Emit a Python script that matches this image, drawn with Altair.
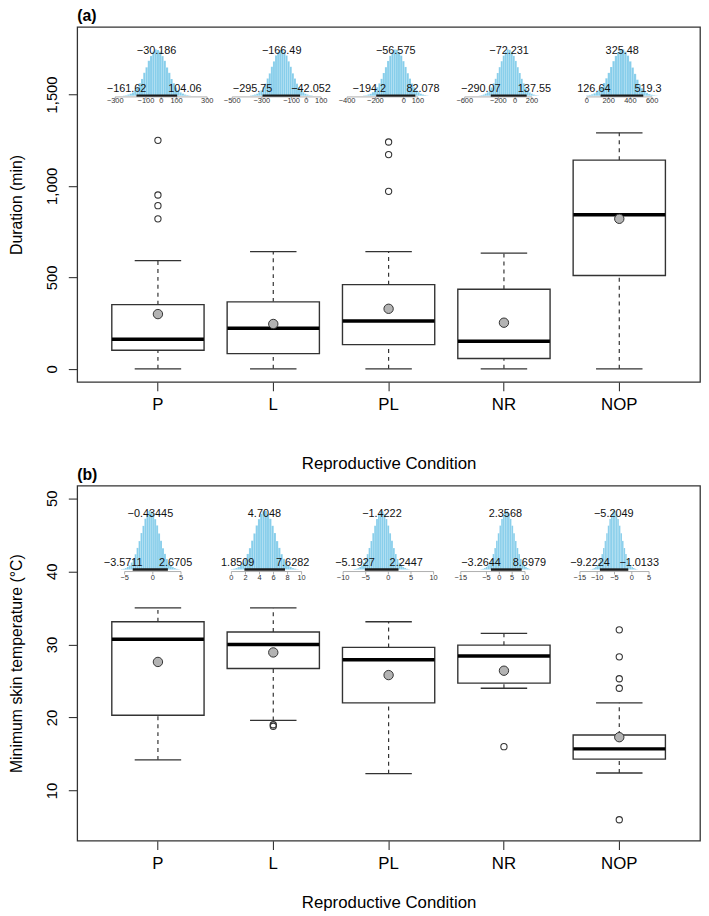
import altair as alt
import pandas as pd

cats = ["P", "L", "PL", "NR", "NOP"]

# ---------------- Panel (a): Duration (min) ----------------
a_low = [0, 0, 0, 0, 0]
a_q1 = [101, 83, 132, 56, 510]
a_med = [162, 222, 261, 151, 842]
a_q3 = [351, 366, 460, 435, 1141]
a_high = [591, 640, 640, 632, 1290]
a_mean = [299, 245, 328, 252, 820]
a_out_cat = ["P", "P", "P", "P", "PL", "PL", "PL"]
a_out_val = [1249, 950, 892, 820, 1240, 1171, 970]

a_post_mean = [-30.186, -166.49, -56.575, -72.231, 325.48]
a_hdi_lo = [-161.62, -295.75, -194.2, -290.07, 126.64]
a_hdi_hi = [104.06, -42.052, 82.078, 137.55, 519.3]
a_inset_ticks = [[-300, -100, 0, 100, 300], [-500, -300, -100, 0, 100],
                 [-400, -200, 0, 100], [-600, -200, 0, 200], [0, 200, 400, 600]]
a_hist = [
    [0.6, 1.2, 2.6, 4.5, 7.0, 12.1, 17.8, 26.9, 36.2, 49.5, 61.3, 75.4, 85.8, 95.3, 100.0,
     98.7, 95.1, 85.5, 75.3, 61.0, 49.4, 36.1, 26.9, 17.7, 12.0, 7.1, 4.6, 2.4, 1.4, 0.6],
    [0.8, 1.4, 2.4, 4.3, 7.6, 11.5, 18.4, 26.0, 37.2, 48.2, 62.5, 74.1, 86.9, 94.2, 99.1,
     100.0, 94.3, 86.7, 74.2, 62.4, 48.3, 37.1, 26.0, 18.5, 11.6, 7.5, 4.2, 2.6, 1.2, 0.8],
    [0.7, 1.1, 2.7, 4.2, 7.5, 11.6, 18.3, 26.6, 36.4, 49.1, 61.6, 75.0, 86.0, 95.1, 99.6,
     99.2, 94.6, 86.5, 74.6, 62.1, 48.6, 36.9, 26.2, 18.2, 11.7, 7.4, 4.3, 2.5, 1.3, 0.6],
    [0.6, 1.3, 2.4, 4.6, 7.2, 12.0, 17.9, 26.7, 36.5, 49.0, 61.7, 74.5, 86.4, 94.6, 100.0,
     99.0, 95.0, 86.0, 75.1, 61.6, 49.1, 36.5, 26.6, 17.9, 12.0, 7.2, 4.5, 2.4, 1.3, 0.7],
    [1.0, 1.8, 3.0, 5.2, 8.3, 12.9, 19.2, 27.5, 37.6, 49.3, 62.0, 74.6, 85.9, 94.5, 99.5,
     100.0, 95.2, 86.4, 74.1, 60.8, 47.2, 34.6, 24.3, 16.2, 10.2, 6.1, 3.5, 1.9, 1.0, 0.5],
]

# ---------------- Panel (b): Minimum skin temperature ----------------
b_low = [14.2, 19.6, 12.3, 24.0, 12.4]
b_q1 = [20.3, 26.7, 22.0, 24.7, 14.3]
b_med = [30.7, 30.0, 27.9, 28.4, 15.7]
b_q3 = [33.1, 31.7, 29.6, 29.9, 17.6]
b_high = [35.0, 35.0, 33.1, 31.5, 22.0]
b_mean = [27.6, 28.9, 25.8, 26.4, 17.3]
b_out_cat = ["L", "L", "NR", "NOP", "NOP", "NOP", "NOP", "NOP"]
b_out_val = [19.0, 18.8, 16.0, 32.0, 28.3, 25.3, 24.0, 6.0]

b_post_mean = [-0.43445, 4.7048, -1.4222, 2.3568, -5.2049]
b_hdi_lo = [-3.5711, 1.8509, -5.1927, -3.2644, -9.2224]
b_hdi_hi = [2.6705, 7.6282, 2.2447, 8.6979, -1.0133]
b_inset_ticks = [[-5, 0, 5], [0, 2, 4, 6, 8, 10], [-10, -5, 0, 5, 10],
                 [-15, -5, 0, 5, 10], [-15, -10, -5, 0, 5]]
b_hist = [
    [0.7, 1.2, 2.5, 4.6, 7.1, 11.9, 18.4, 26.1, 36.9, 48.5, 62.2, 74.4, 86.6, 94.4, 99.8,
     99.1, 95.0, 85.9, 75.2, 61.5, 49.0, 36.4, 26.7, 17.9, 11.6, 7.4, 4.3, 2.6, 1.2, 0.7],
    [0.6, 1.4, 2.6, 4.3, 7.4, 11.7, 17.9, 26.6, 36.5, 49.2, 61.5, 75.1, 85.9, 95.0, 99.3,
     100.0, 94.5, 86.4, 74.5, 62.2, 48.5, 36.9, 26.2, 18.3, 11.9, 7.2, 4.5, 2.4, 1.4, 0.6],
    [0.8, 1.3, 2.4, 4.5, 7.3, 12.0, 18.2, 26.3, 36.8, 48.6, 62.0, 74.6, 86.3, 94.7, 100.0,
     99.2, 94.9, 86.1, 74.9, 61.8, 48.9, 36.6, 26.5, 18.0, 11.7, 7.3, 4.4, 2.5, 1.3, 0.7],
    [0.7, 1.3, 2.6, 4.4, 7.2, 11.8, 18.0, 26.5, 36.6, 48.9, 61.8, 74.9, 86.1, 94.9, 99.2,
     99.9, 94.7, 86.3, 74.7, 62.0, 48.7, 36.8, 26.3, 18.1, 11.8, 7.3, 4.4, 2.5, 1.3, 0.7],
    [0.6, 1.2, 2.5, 4.4, 7.4, 11.8, 18.1, 26.4, 36.7, 48.8, 61.9, 74.8, 86.2, 94.8, 99.4,
     99.6, 94.6, 86.3, 74.7, 61.9, 48.8, 36.7, 26.4, 18.1, 11.8, 7.3, 4.4, 2.5, 1.3, 0.7],
]

# ---------------- layout / style (not data) ----------------
W, H = 630, 359
FONT = "Liberation Sans"
SKY = "#87CEEB"
a_inset_dom = [(-300, 300), (-500, 100), (-400, 100), (-600, 200), (0, 600)]
a_inset_px = [(38.5, 131.5), (156.8, 246.8), (273, 344.6), (392, 460), (515.5, 581.5)]
b_inset_dom = [(-5, 5), (0, 10), (-10, 10), (-15, 10), (-15, 5)]
b_inset_px = [(48, 105), (156, 227), (269, 360.5), (388, 453), (508.5, 578.5)]


def fmt(v):
    s = str(int(v)) if float(v).is_integer() else repr(v)
    return s.replace("-", "\u2212")


def inset(counts, mean, lo, hi, ticks, dom, px, yr, ax_off, lab_dy, hdi_dy):
    w = (hi - lo) / 18.0
    n = len(counts)
    hist = pd.DataFrame({
        "x0": [lo + (i - 6) * w for i in range(n)],
        "x1": [lo + (i - 5) * w for i in range(n)],
        "c": counts,
    })
    st = pd.DataFrame({"lo": [lo], "hi": [hi], "m": [mean],
                       "lo_t": [fmt(lo)], "hi_t": [fmt(hi)], "m_t": [fmt(mean)],
                       "t0": [ticks[0]], "t1": [ticks[-1]]})
    tk = pd.DataFrame({"v": ticks, "t": [fmt(v) for v in ticks]})
    xs = alt.Scale(domain=list(dom), range=list(px), nice=False, zero=False)
    ys = alt.Scale(domain=[0, 100], range=list(yr), nice=False, zero=False)

    def X(f):
        return alt.X(f, type="quantitative", scale=xs, axis=None)

    def YD(v):
        return alt.YDatum(v, type="quantitative", scale=ys, axis=None)

    h = alt.Chart(hist).mark_rect(fill=SKY, stroke="white", strokeWidth=0.2,
                                  strokeOpacity=0.6).encode(
        x=X("x0"), x2="x1:Q", y=alt.Y("c:Q", scale=ys, axis=None), y2=alt.Y2Datum(0))
    hd = alt.Chart(st).mark_rule(strokeWidth=2.5, color="#1a1a1a", strokeCap="butt").encode(
        x=X("lo"), x2="hi:Q", y=YD(0))
    axl = alt.Chart(st).mark_rule(strokeWidth=0.8, color="#9a9a9a", yOffset=ax_off).encode(
        x=X("t0"), x2="t1:Q", y=YD(0))
    tks = alt.Chart(tk).mark_rule(strokeWidth=0.8, color="#9a9a9a", yOffset=ax_off,
                                  y2Offset=ax_off + 3).encode(x=X("v"), y=YD(0), y2=alt.Y2Datum(0))
    tkl = alt.Chart(tk).mark_text(baseline="top", dy=lab_dy, fontSize=7.5, font=FONT,
                                  color="#333").encode(x=X("v"), y=YD(0), text="t:N")
    ml = alt.Chart(st).mark_text(baseline="alphabetic", fontSize=11, font=FONT,
                                 color="#111").encode(x=X("m"), y=YD(90), text="m_t:N")
    ll = alt.Chart(st).mark_text(baseline="alphabetic", align="right", dx=10, dy=hdi_dy,
                                 fontSize=11, font=FONT, color="#111").encode(
        x=X("lo"), y=YD(0), text="lo_t:N")
    hl = alt.Chart(st).mark_text(baseline="alphabetic", align="left", dx=-9, dy=hdi_dy,
                                 fontSize=11, font=FONT, color="#111").encode(
        x=X("hi"), y=YD(0), text="hi_t:N")
    return alt.layer(h, hd, axl, tks, tkl, ml, ll, hl)


def panel(tag, low, q1, med, q3, high, mean, out_cat, out_val, ydom, yvals, ytitle, yfmt,
          insets, xtitle_pad):
    df = pd.DataFrame({"cond": cats, "low": low, "q1": q1, "med": med, "q3": q3,
                       "high": high, "mean": mean})
    od = pd.DataFrame({"cond": out_cat, "v": out_val})
    xs = alt.Scale(type="band", domain=cats, paddingInner=0, paddingOuter=0.2)
    xax = alt.Axis(title="Reproductive Condition", labelAngle=0, tickSize=9, labelPadding=6,
                   labelFontSize=17, titleFontSize=17, titlePadding=xtitle_pad)
    X = alt.X("cond:N", scale=xs, axis=xax, sort=cats)
    ys = alt.Scale(domain=ydom, nice=False, zero=False)
    yax = alt.Axis(title=ytitle, values=yvals, format=yfmt, labelAngle=-90, tickSize=9,
                   labelPadding=9, labelFontSize=15, titleFontSize=16, titlePadding=20)

    def Y(f):
        return alt.Y(f, type="quantitative", scale=ys, axis=yax)

    base = alt.Chart(df)
    wu = base.mark_rule(strokeDash=[4, 4], strokeWidth=1.2, color="#333").encode(
        x=X, y=Y("q3"), y2="high:Q")
    wl = base.mark_rule(strokeDash=[4, 4], strokeWidth=1.2, color="#333").encode(
        x=X, y=Y("low"), y2="q1:Q")
    box = base.mark_bar(fill="white", stroke="#333", strokeWidth=1.4,
                        width=alt.RelativeBandSize(0.8)).encode(x=X, y=Y("q1"), y2="q3:Q")
    md = base.mark_tick(color="black", thickness=3.5, size=93, opacity=1).encode(
        x=X, y=Y("med"))
    ch = base.mark_tick(color="#333", thickness=1.3, size=47, opacity=1).encode(
        x=X, y=Y("high"))
    cl = base.mark_tick(color="#333", thickness=1.3, size=47, opacity=1).encode(
        x=X, y=Y("low"))
    ou = alt.Chart(od).mark_point(shape="circle", filled=False, size=40, strokeWidth=1.1,
                                  color="#333", opacity=1).encode(x=X, y=Y("v"))
    mn = base.mark_circle(size=90, color="#b3b3b3", stroke="#333", strokeWidth=1,
                          opacity=1).encode(x=X, y=Y("mean"))
    main = alt.layer(wu, wl, box, md, ch, cl, ou, mn)
    return alt.layer(main, *insets).resolve_scale(x="independent", y="independent").properties(
        width=W, height=H,
        title=alt.Title(tag, anchor="start", frame="group", fontSize=16, fontWeight="bold",
                        font=FONT, offset=3))


a_insets = [inset(a_hist[i], a_post_mean[i], a_hdi_lo[i], a_hdi_hi[i], a_inset_ticks[i],
                  a_inset_dom[i], a_inset_px[i], (69.5, 22.6), 1.2, 1.2, -4)
            for i in range(5)]
b_insets = [inset(b_hist[i], b_post_mean[i], b_hdi_lo[i], b_hdi_hi[i], b_inset_ticks[i],
                  b_inset_dom[i], b_inset_px[i], (84.8, 25.4), 2, 5, -3.5)
            for i in range(5)]

pa = panel("(a)", a_low, a_q1, a_med, a_q3, a_high, a_mean, a_out_cat, a_out_val,
           [-71.9, 1868.6], [0, 500, 1000, 1500], "Duration (min)", ",d", a_insets, 44)
pb = panel("(b)", b_low, b_q1, b_med, b_q3, b_high, b_mean, b_out_cat, b_out_val,
           [3.14, 51.72], [10, 20, 30, 40, 50], "Minimum skin temperature (\u00b0C)", "d",
           b_insets, 24)

chart = alt.vconcat(pa, pb, spacing=105, bounds="flush").properties(
    padding={"left": 0, "top": -6, "right": 0, "bottom": 0}
).configure_view(
    stroke="#333", strokeWidth=1.3
).configure_axis(
    labelFont=FONT, titleFont=FONT, labelColor="black", titleColor="black",
    tickColor="#333", tickWidth=1.1, grid=False, domain=False, titleFontWeight="normal"
)

chart.save("out.html", embed_options={"renderer": "svg", "actions": False})
